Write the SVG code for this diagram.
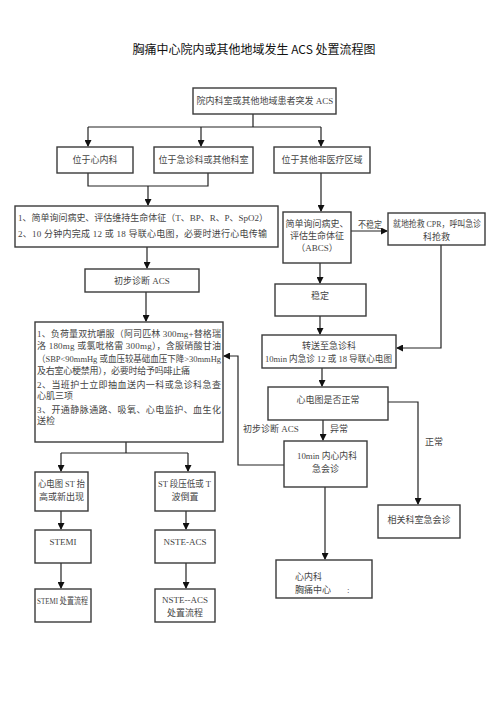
<svg xmlns="http://www.w3.org/2000/svg" width="496" height="702" viewBox="0 0 496 702">
<style>
.box{fill:#fff;stroke:#3a3a3a;stroke-width:1.4}
.t{font-family:"Liberation Serif","Noto Sans CJK SC",serif;font-size:9px;fill:#444}
.c{text-anchor:middle}
.ln{fill:none;stroke:#222;stroke-width:1.2}
.title{font-family:"Noto Sans CJK SC","Liberation Sans",sans-serif;font-size:12px;fill:#111;text-anchor:middle}
</style>
<defs>
<marker id="ah" markerWidth="7" markerHeight="7" refX="6" refY="3.5" orient="auto" markerUnits="userSpaceOnUse">
<path d="M0,0 L7,3.5 L0,7 Z" fill="#111"/>
</marker>
</defs>
<rect width="496" height="702" fill="#fff"/>
<text class="title" x="254" y="54">胸痛中心院内或其他地域发生 ACS 处置流程图</text>

<g id="connectors">
<path class="ln" d="M253,114 V127 M88,127 H321"/>
<path class="ln" d="M88,127 V146" marker-end="url(#ah)"/>
<path class="ln" d="M201,127 V146" marker-end="url(#ah)"/>
<path class="ln" d="M321,127 V146" marker-end="url(#ah)"/>
<path class="ln" d="M88,173 V186 H208 V173"/>
<path class="ln" d="M148,186 V205" marker-end="url(#ah)"/>
<path class="ln" d="M321,173 V211" marker-end="url(#ah)"/>
<path class="ln" d="M351,231 H387" marker-end="url(#ah)"/>
<path class="ln" d="M147,247 V268" marker-end="url(#ah)"/>
<path class="ln" d="M146,292 V321" marker-end="url(#ah)"/>
<path class="ln" d="M320,263 V283" marker-end="url(#ah)"/>
<path class="ln" d="M320,316 V334" marker-end="url(#ah)"/>
<path class="ln" d="M441,245 V348 H397" marker-end="url(#ah)"/>
<path class="ln" d="M322,368 V386" marker-end="url(#ah)"/>
<path class="ln" d="M388,402 H418 V504" marker-end="url(#ah)"/>
<path class="ln" d="M323,420 V440" marker-end="url(#ah)"/>
<path class="ln" d="M284,465 H238 V356 H224" marker-end="url(#ah)"/>
<path class="ln" d="M126,442 V453 M61,453 H188"/>
<path class="ln" d="M61,453 V471" marker-end="url(#ah)"/>
<path class="ln" d="M188,453 V471" marker-end="url(#ah)"/>
<path class="ln" d="M61,511 V529" marker-end="url(#ah)"/>
<path class="ln" d="M186,511 V529" marker-end="url(#ah)"/>
<path class="ln" d="M61,563 V588" marker-end="url(#ah)"/>
<path class="ln" d="M186,563 V588" marker-end="url(#ah)"/>
<path class="ln" d="M325,487 V559" marker-end="url(#ah)"/>
<text class="t" x="358" y="228" font-size="8" textLength="24" lengthAdjust="spacingAndGlyphs">不稳定</text>
<text class="t" x="243" y="432">初步诊断 ACS</text>
<text class="t" x="330" y="432">异常</text>
<text class="t" x="425" y="445">正常</text>
</g>

<g id="n_start">
<rect class="box" x="193" y="88" width="143" height="26"/>
<text class="t c" x="265" y="104">院内科室或其他地域患者突发 ACS</text>
</g>
<g id="n_cardio">
<rect class="box" x="57" y="147" width="76" height="26"/>
<text class="t c" x="95" y="163">位于心内科</text>
</g>
<g id="n_emerg">
<rect class="box" x="154" y="147" width="99" height="26"/>
<text class="t c" x="203.5" y="163">位于急诊科或其他科室</text>
</g>
<g id="n_nonmed">
<rect class="box" x="274" y="147" width="96" height="26"/>
<text class="t c" x="322" y="163">位于其他非医疗区域</text>
</g>
<g id="n_history1">
<rect class="box" x="15" y="206" width="263" height="41"/>
<text class="t" x="18" y="221" textLength="250" lengthAdjust="spacing">1、简单询问病史、评估维持生命体征（T、BP、R、P、SpO2）</text>
<text class="t" x="18" y="237" textLength="249" lengthAdjust="spacing">2、10 分钟内完成 12 或 18 导联心电图，必要时进行心电传输</text>
</g>
<g id="n_history2">
<rect class="box" x="283" y="212" width="68" height="51"/>
<text class="t c" x="317" y="227">简单询问病史、</text>
<text class="t c" x="317" y="239">评估生命体征</text>
<text class="t c" x="317" y="251">（ABCS）</text>
</g>
<g id="n_rescue">
<rect class="box" x="388" y="213" width="97" height="32"/>
<text class="t" x="393" y="227" textLength="88" lengthAdjust="spacingAndGlyphs">就地抢救 CPR，呼叫急诊</text>
<text class="t c" x="436.5" y="240">科抢救</text>
</g>
<g id="n_diag">
<rect class="box" x="85" y="269" width="114" height="23"/>
<text class="t c" x="142" y="284">初步诊断 ACS</text>
</g>
<g id="n_stable">
<rect class="box" x="275" y="284" width="91" height="32"/>
<text class="t c" x="320" y="299">稳定</text>
</g>
<g id="n_transfer">
<rect class="box" x="262" y="335" width="134" height="33"/>
<text class="t c" x="329" y="349">转送至急诊科</text>
<text class="t" x="265" y="362" textLength="127" lengthAdjust="spacingAndGlyphs">10min 内急诊 12 或 18 导联心电图</text>
</g>
<g id="n_treat">
<rect class="box" x="35" y="322" width="188" height="120"/>
<text class="t" x="37" y="337" textLength="184" lengthAdjust="spacing">1、负荷量双抗嚼服（阿司匹林 300mg+替格瑞</text>
<text class="t" x="37" y="349" textLength="184" lengthAdjust="spacing">洛 180mg 或氯吡格雷 300mg），含服硝酸甘油</text>
<text class="t" x="37" y="362" textLength="184" lengthAdjust="spacingAndGlyphs">（SBP&lt;90mmHg 或血压较基础血压下降&gt;30mmHg</text>
<text class="t" x="37" y="374" textLength="153" lengthAdjust="spacing">及右室心梗禁用），必要时给予吗啡止痛</text>
<text class="t" x="37" y="388" textLength="184" lengthAdjust="spacing">2、当班护士立即抽血送内一科或急诊科急查</text>
<text class="t" x="37" y="399">心肌三项</text>
<text class="t" x="37" y="413" textLength="184" lengthAdjust="spacing">3、开通静脉通路、吸氧、心电监护、血生化</text>
<text class="t" x="37" y="424">送检</text>
</g>
<g id="n_ecg">
<rect class="box" x="268" y="387" width="120" height="33"/>
<text class="t c" x="328" y="403">心电图是否正常</text>
</g>
<g id="n_consult">
<rect class="box" x="284" y="441" width="83" height="46"/>
<text class="t" x="297" y="459" textLength="60" lengthAdjust="spacingAndGlyphs">10min 内心内科</text>
<text class="t c" x="325.5" y="472">急会诊</text>
</g>
<g id="n_related">
<rect class="box" x="378" y="505" width="82" height="33"/>
<text class="t c" x="419" y="523">相关科室急会诊</text>
</g>
<g id="n_stelev">
<rect class="box" x="35" y="472" width="53" height="39"/>
<text class="t" x="38" y="487" textLength="47" lengthAdjust="spacingAndGlyphs">心电图 ST 抬</text>
<text class="t c" x="61.5" y="500">高或新出现</text>
</g>
<g id="n_stdep">
<rect class="box" x="155" y="472" width="60" height="39"/>
<text class="t" x="158" y="487" textLength="53" lengthAdjust="spacingAndGlyphs">ST 段压低或 T</text>
<text class="t c" x="185" y="500">波倒置</text>
</g>
<g id="n_stemi">
<rect class="box" x="35" y="530" width="56" height="33"/>
<text class="t c" x="63" y="545">STEMI</text>
</g>
<g id="n_nste">
<rect class="box" x="155" y="530" width="60" height="33"/>
<text class="t c" x="185" y="545">NSTE-ACS</text>
</g>
<g id="n_stemi_flow">
<rect class="box" x="35" y="589" width="56" height="33"/>
<text class="t" x="37" y="604" textLength="51" lengthAdjust="spacingAndGlyphs">STEMI 处置流程</text>
</g>
<g id="n_nste_flow">
<rect class="box" x="155" y="589" width="60" height="33"/>
<text class="t c" x="185" y="603">NSTE--ACS</text>
<text class="t c" x="185" y="616">处置流程</text>
</g>
<g id="n_cardio_center">
<rect class="box" x="276" y="560" width="96" height="38"/>
<text class="t" x="295" y="580">心内科</text>
<text class="t" x="295" y="593">胸痛中心</text>
<text class="t" x="347" y="593">:</text>
</g>
</svg>
